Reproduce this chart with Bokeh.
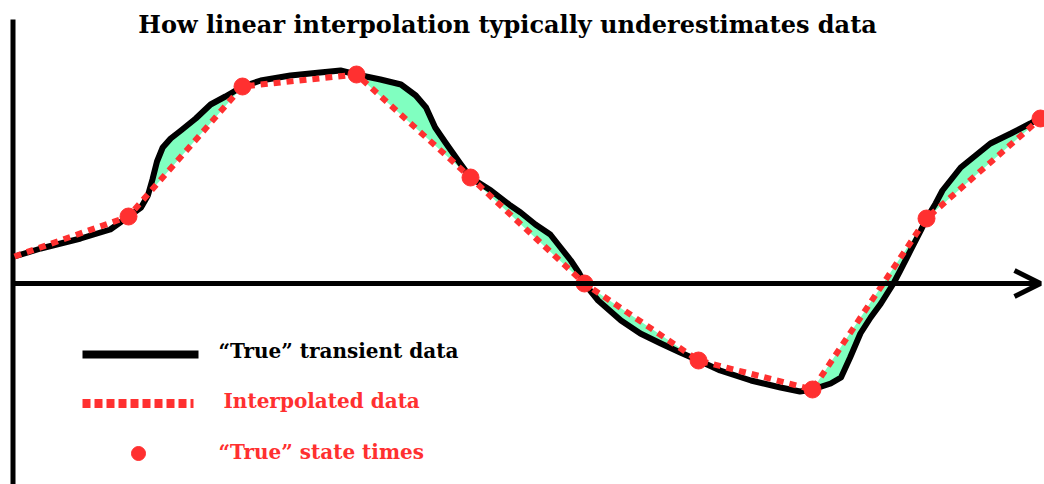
import numpy as np
from bokeh.plotting import figure
from bokeh.models import Range1d, Label, Arrow, OpenHead
from bokeh.embed import file_html
from bokeh.resources import INLINE

# ---- data -------------------------------------------------------------
title_text = "How linear interpolation typically underestimates data"

# "True" state times and values
state_t = [0, 1, 2, 3, 4, 5, 6, 7, 8, 9]
state_v = [27, 67, 197, 209, 106, 0, -77, -106, 65, 165]

# "True" transient data (continuous curve)
true_t = [0.00, 0.23, 0.58, 0.84, 1.00, 1.11, 1.17, 1.21, 1.25, 1.30, 1.37, 1.46, 1.59,
          1.72, 1.85, 2.00, 2.16, 2.42, 2.68, 2.86, 3.00, 3.21, 3.39, 3.52, 3.61,
          3.69, 3.78, 3.91, 4.00, 4.18, 4.35, 4.44, 4.57, 4.70, 4.79, 4.88, 4.95,
          5.00, 5.12, 5.32, 5.49, 5.67, 5.84, 6.00, 6.19, 6.46, 6.72, 6.89, 7.00,
          7.16, 7.25, 7.33, 7.42, 7.51, 7.60, 7.71, 7.77, 7.86, 7.95, 8.00, 8.08,
          8.14, 8.30, 8.43, 8.56, 8.74, 8.91, 9.00]
true_v = [27, 35, 45, 54, 67, 76, 88, 104, 122, 136, 145, 153, 165,
          179, 187, 197, 203, 208, 211, 213, 209, 204, 199, 188, 176,
          156, 141, 120, 106, 93, 78, 71, 59, 49, 36, 23, 11,
          0, -17, -37, -50, -60, -69, -77, -87, -97, -104, -108, -106,
          -100, -94, -74, -50, -34, -20, 0, 13, 33, 53, 65, 80,
          93, 116, 128, 140, 150, 160, 166]

# intervals where the interpolation visibly underestimates
green_segments = [(1, 2), (3, 5), (5, 6), (7, 9)]

legend_labels = ["\u201cTrue\u201d transient data", "Interpolated data",
                 "\u201cTrue\u201d state times"]

# ---- layout helpers (image pixels -> data) -----------------------------
W, H = 1044, 484
PX0, PXU = 14.0, 114.0      # image x of t=0, pixels per time unit
PY0 = 283.0                 # image y of v=0
def tx(px):
    return (px - PX0) / PXU
def vy(py):
    return PY0 - py

RED = "#FF3030"
GREEN = "#80FFC0"
FONT = "DejaVu Serif"

p = figure(width=W, height=H, output_backend="svg", toolbar_location=None,
           x_range=Range1d(tx(0), tx(W)), y_range=Range1d(vy(H), vy(0)),
           x_axis_type=None, y_axis_type=None, min_border=0)
p.grid.visible = False
p.outline_line_color = None
p.background_fill_color = "white"

# green fill between true curve and interpolation
tt = np.array(true_t, dtype=float)
tv = np.array(true_v, dtype=float)
for a, b in green_segments:
    m = (tt >= a) & (tt <= b)
    xs = tt[m]
    p.varea(x=xs, y1=tv[m], y2=np.interp(xs, state_t, state_v),
            fill_color=GREEN, fill_alpha=1.0)

# axes
p.line([tx(12.5), tx(12.5)], [vy(19), vy(500)], line_color="black", line_width=5)
p.add_layout(Arrow(end=OpenHead(size=26, line_width=5, line_color="black"),
                   x_start=tx(12), y_start=0, x_end=tx(1040), y_end=0,
                   line_width=5, line_color="black"))

# curves
p.line(true_t, true_v, line_color="black", line_width=6, line_join="round")
p.line(state_t, state_v, line_color=RED, line_width=6, line_dash="7 6")
p.scatter(state_t[1:], state_v[1:], size=17, fill_color=RED, line_color=RED,
          marker="circle")

# title
p.add_layout(Label(x=tx(507), y=vy(24), text=title_text, text_font=FONT,
                   text_font_size="24px", text_font_style="bold",
                   text_align="center", text_baseline="alphabetic",
                   text_color="black"))

# legend
p.line([tx(82), tx(198)], [vy(354), vy(354)], line_color="black", line_width=8)
p.line([tx(82), tx(193)], [vy(403), vy(403)], line_color=RED, line_width=9,
       line_dash="8 4")
p.scatter([tx(138)], [vy(453)], size=14, fill_color=RED, line_color=RED,
          marker="circle")
for lbl, px, py, col in [(legend_labels[0], 218, 350, "black"),
                         (legend_labels[1], 223, 400, RED),
                         (legend_labels[2], 218, 451, RED)]:
    p.add_layout(Label(x=tx(px), y=vy(py), text=lbl, text_font=FONT,
                       text_font_size="20px", text_font_style="bold",
                       text_align="left", text_baseline="alphabetic",
                       text_color=col))

open("out.html", "w").write(file_html(p, INLINE))
